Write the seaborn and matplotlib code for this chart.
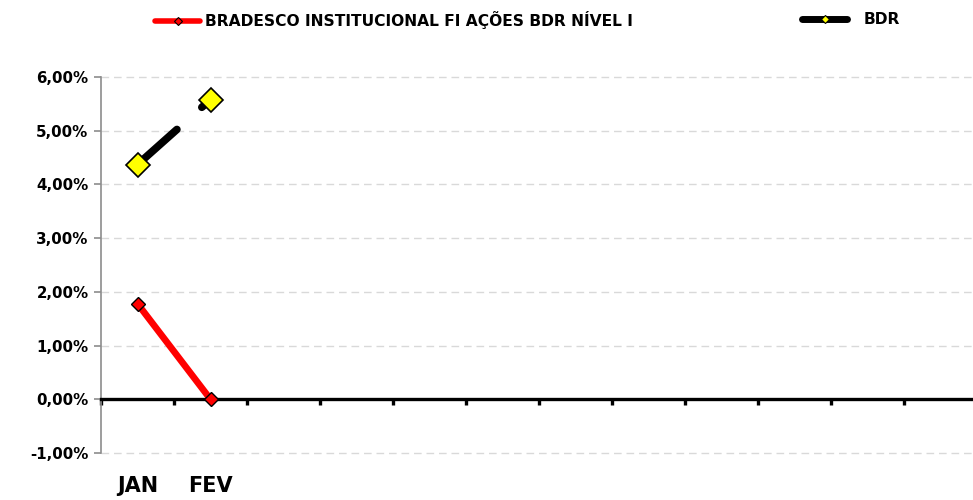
import numpy as np
import pandas as pd
import matplotlib
matplotlib.use("Agg")
import matplotlib.pyplot as plt
from matplotlib.lines import Line2D
from matplotlib.ticker import FixedLocator
import seaborn as sns

# ---- data ----
months = ["JAN", "FEV", "MAR", "ABR", "MAI", "JUN", "JUL", "AGO", "SET", "OUT", "NOV", "DEZ"]
month_labels = ["JAN", "FEV", "", "", "", "", "", "", "", "", "", ""]
fund_name = "BRADESCO INSTITUCIONAL FI AÇÕES BDR NÍVEL I"
bench_name = "BDR"
fund_values = [1.78, 0.00]
bench_values = [4.37, 5.58]
y_ticks = [-1, 0, 1, 2, 3, 4, 5, 6]

sns.set_theme(style="white")
plt.rcParams['font.family'] = ['DejaVu Sans']
plt.rcParams['font.weight'] = 'bold'
plt.rcParams['text.color'] = 'black'
plt.rcParams['lines.scale_dashes'] = False

fig = plt.figure(figsize=(9.73, 5.0), dpi=100)
ax = fig.add_axes([101 / 973, 1 - 453 / 500, 876 / 973, (453 - 77) / 500])

df_f = pd.DataFrame({"mes": np.arange(len(fund_values)), "v": fund_values})
df_b = pd.DataFrame({"mes": np.arange(len(bench_values)), "v": bench_values})

sns.lineplot(data=df_b, x="mes", y="v", ax=ax, color="black", lw=5.5,
             marker="D", markersize=12.5, markerfacecolor="#ffff00",
             markeredgecolor="black", markeredgewidth=1.2, zorder=5,
             solid_capstyle="round", dash_capstyle="round")
sns.lineplot(data=df_f, x="mes", y="v", ax=ax, color="#ff0000", lw=4.8,
             marker="D", markersize=7, markerfacecolor="#ff0000",
             markeredgecolor="black", markeredgewidth=1.0, zorder=6)

# gap in benchmark line as in reference
bl = ax.get_lines()[0]
bl.set_linestyle((0, (38, 24, 8, 40)))
bl.set_dash_capstyle("round")

ax.set_xlim(-0.5, len(months) - 0.5)
ax.set_ylim(min(y_ticks), max(y_ticks))
ax.set_xlabel("")
ax.set_ylabel("")

# y axis
ax.set_yticks(y_ticks)
ax.set_yticklabels([f"{v:.2f}".replace(".", ",") + "%" for v in y_ticks],
                   fontsize=10.8, fontweight="bold")
ax.tick_params(axis="y", which="major", direction="out", length=5, width=1.2,
               color="#8c8c8c", pad=4, left=True, labelcolor="black")
ax.yaxis.grid(True, linestyle=(0, (5.5, 3.5)), color="#d9d9d9", lw=1)
for gl in ax.get_ygridlines():
    gl.set_clip_on(False)
ax.set_axisbelow(True)

# x axis on zero line
ax.spines["bottom"].set_position(("data", 0))
ax.spines["bottom"].set_color("black")
ax.spines["bottom"].set_linewidth(2.4)
ax.spines["bottom"].set_zorder(4)
ax.spines["left"].set_color("#8c8c8c")
ax.spines["left"].set_linewidth(1.2)
ax.spines["top"].set_visible(False)
ax.spines["right"].set_visible(False)

ax.set_xticks(np.arange(len(months)))
ax.set_xticklabels(month_labels, fontsize=15, fontweight="bold")
ax.xaxis.set_minor_locator(FixedLocator(np.arange(len(months) + 1) - 0.5))
ax.tick_params(axis="x", which="major", length=0, pad=55, bottom=True,
               labelcolor="black")
ax.tick_params(axis="x", which="minor", direction="out", length=4.5, width=2.4,
               color="black", bottom=True)

# legend
h1 = Line2D([], [], color="#ff0000", lw=4, marker="D", markersize=4.5,
            markerfacecolor="#ff0000", markeredgecolor="black", markeredgewidth=0.8,
            solid_capstyle="round")
h2 = Line2D([], [], color="black", lw=5, marker="D", markersize=4.5,
            markerfacecolor="#ffff00", markeredgecolor="black", markeredgewidth=0.8,
            solid_capstyle="round")
leg1 = fig.legend([h1], [fund_name], loc="center left",
                  bbox_to_anchor=(155 / 973, 1 - 20 / 500), frameon=False,
                  borderpad=0, borderaxespad=0, handlelength=2.9, handletextpad=0.3,
                  prop={"size": 11.2, "weight": "bold"}, labelcolor="black")
leg2 = fig.legend([h2], [bench_name], loc="center left",
                  bbox_to_anchor=(802 / 973, 1 - 20 / 500), frameon=False,
                  borderpad=0, borderaxespad=0, handlelength=2.9, handletextpad=1.05,
                  prop={"size": 11.2, "weight": "bold"}, labelcolor="black")

fig.savefig("out.png", dpi=100)
